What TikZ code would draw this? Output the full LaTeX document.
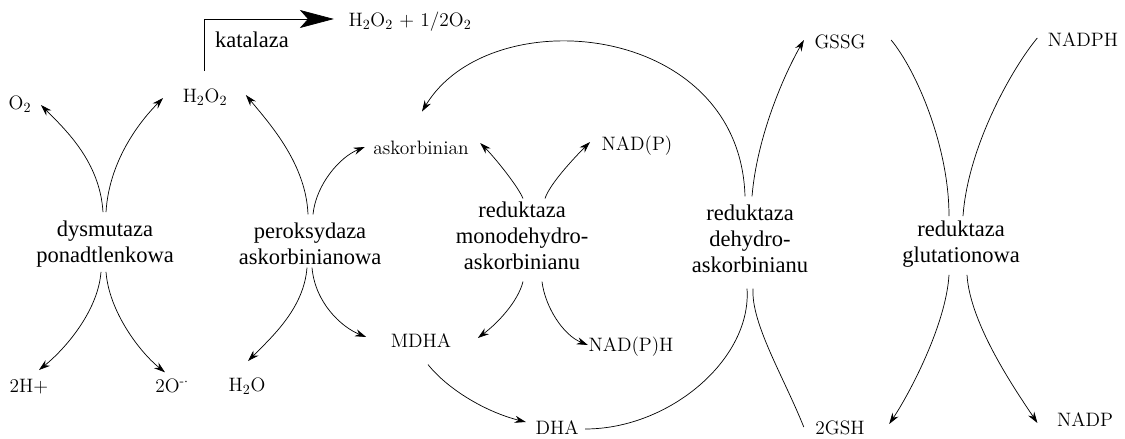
\documentclass[tikz,border=0pt]{standalone}
\usepackage{fontspec}
\usetikzlibrary{arrows.meta}
\newfontfamily\enzfont{Liberation Serif}

\begin{document}
\begin{tikzpicture}[x=0.025cm, y=-0.025cm, line width=0.5pt,
  >={Stealth[length=2.8mm,width=1.8mm]},
  enzyme/.style={align=center, inner sep=4pt, outer sep=0pt,
    font=\enzfont\fontsize{16}{18.5}\selectfont},
  chem/.style={inner sep=4pt, outer sep=0pt, font=\fontsize{13.8}{16}\selectfont},
  link/.style={draw}]

\useasboundingbox (0,0) rectangle (1125,439);

% enzymes
\node[enzyme] (dys)  at (105,244) {dysmutaza\\ponadtlenkowa};
\node[enzyme] (per)  at (310,244) {peroksydaza\\askorbinianowa};
\node[enzyme] (mono) at (522,236) {reduktaza\\monodehydro-\\askorbinianu};
\node[enzyme] (deh)  at (750,239) {reduktaza\\dehydro-\\askorbinianu};
\node[enzyme] (glut) at (961,244) {reduktaza\\glutationowa};

% substrates and products
\node[chem] (o2)    at (20,104)   {O$_2$};
\node[chem] (h2o2)  at (205,97)   {H$_2$O$_2$};
\node[chem] (prod)  at (410,22)   {H$_2$O$_2$ + 1/2O$_2$};
\node[enzyme] (kat) at (252,40)   {katalaza};
\node[chem] (hplus) at (29,387)   {2H+};
\node[chem] (orad)  at (172,386)  {2O\textsuperscript{-$\cdot$}};
\node[chem] (h2o)   at (247,386)  {H$_2$O};
\node[chem] (asc)   at (421,148)  {askorbinian};
\node[chem] (mdha)  at (421,341)  {MDHA};
\node[chem] (nadp)  at (637,146)  {NAD(P)};
\node[chem] (nadph) at (631,347)  {NAD(P)H};
\node[chem] (dha)   at (557,428)  {DHA};
\node[chem] (gssg)  at (840,42)   {GSSG};
\node[chem] (gsh)   at (840,428)  {2GSH};
\node[chem] (NADPH) at (1083,40)  {NADPH};
\node[chem] (NADP)  at (1085,420) {NADP};

% catalase
\draw[-{Stealth[length=8.5mm,width=4.5mm,inset=2mm]}]
  ([shift={(-1,-12)}]h2o2.north) |- ([shift={(-9,-3)}]prod.west);

% superoxide dismutase
\draw[->] ([shift={(-2,-3)}]dys.north) .. controls +(-3,-50) and +(25,25) .. ([shift={(4,1)}]o2.east);
\draw[->] ([shift={(1,-3)}]dys.north) .. controls +(3,-50) and +(-25,25) .. ([shift={(-14,1)}]h2o2.west);
\draw[->] ([shift={(-4,-1)}]dys.south) .. controls +(-3,40) and +(25,-20) .. ([shift={(10,-4)}]hplus.north);
\draw[->] ([shift={(1,-1)}]dys.south) .. controls +(3,40) and +(-25,-20) .. ([shift={(-7,-1)}]orad.north);

% ascorbate peroxidase
\draw[->] ([shift={(-2,-3)}]per.north) .. controls +(-2,-50) and +(25,30) .. ([shift={(13,-2)}]h2o2.east);
\draw[->] ([shift={(3,-3)}]per.north) .. controls +(3,-30) and +(-25,10) .. ([shift={(-3,-1)}]asc.west);
\draw[->] ([shift={(-3,-3)}]per.south) .. controls +(-3,40) and +(25,-25) .. ([shift={(1,-11)}]h2o.north);
\draw[->] ([shift={(2,-3)}]per.south) .. controls +(3,35) and +(-25,-10) .. ([shift={(-19,-4)}]mdha.west);

% monodehydroascorbate reductase
\draw[->] ([shift={(1,2)}]mono.north) .. controls +(-5,-12) and +(15,15) .. ([shift={(6,-5)}]asc.east);
\draw[->] ([shift={(23,2)}]mono.north) .. controls +(5,-15) and +(-15,15) .. ([shift={(-6,-4)}]nadp.west);
\draw[->] ([shift={(1,6)}]mono.south) .. controls +(-5,20) and +(20,-15) .. ([shift={(21,-3)}]mdha.east);
\draw[->] ([shift={(20,6)}]mono.south) .. controls +(3,25) and +(-25,-10) .. ([shift={(5,-2)}]nadph.west);
\draw[->] ([shift={(7,11)}]mdha.south) .. controls +(20,25) and +(-40,-10) .. ([shift={(-4,-6)}]dha.west);

% dehydroascorbate reductase
\draw ([shift={(1,1)}]dha.east) .. controls +(85,0) and +(5,70) .. ([shift={(-3,10)}]deh.south);
\draw ([shift={(-6,-1)}]gsh.west) .. controls +(-20,-50) and +(-2,35) .. ([shift={(3,10)}]deh.south);
\draw[->] ([shift={(-5,-3)}]deh.north) .. controls +(-5,-175) and +(68,-113) .. ([shift={(1,-24)}]asc.north);
\draw[->] ([shift={(2,-3)}]deh.north) .. controls +(5,-60) and +(-20,35) .. ([shift={(-5,-2)}]gssg.west);

% glutathione reductase
\draw ([shift={(20,-2)}]gssg.east) .. controls +(25,30) and +(0,-70) .. ([shift={(-12,1)}]glut.north);
\draw ([shift={(-5,-2)}]NADPH.west) .. controls +(-25,30) and +(5,-70) .. ([shift={(2,1)}]glut.north);
\draw[->] ([shift={(-12,2)}]glut.south) .. controls +(-3,50) and +(20,-30) .. ([shift={(19,-4)}]gsh.east);
\draw[->] ([shift={(6,2)}]glut.south) .. controls +(3,50) and +(-20,-30) .. ([shift={(-14,3)}]NADP.west);

\end{tikzpicture}
\end{document}
